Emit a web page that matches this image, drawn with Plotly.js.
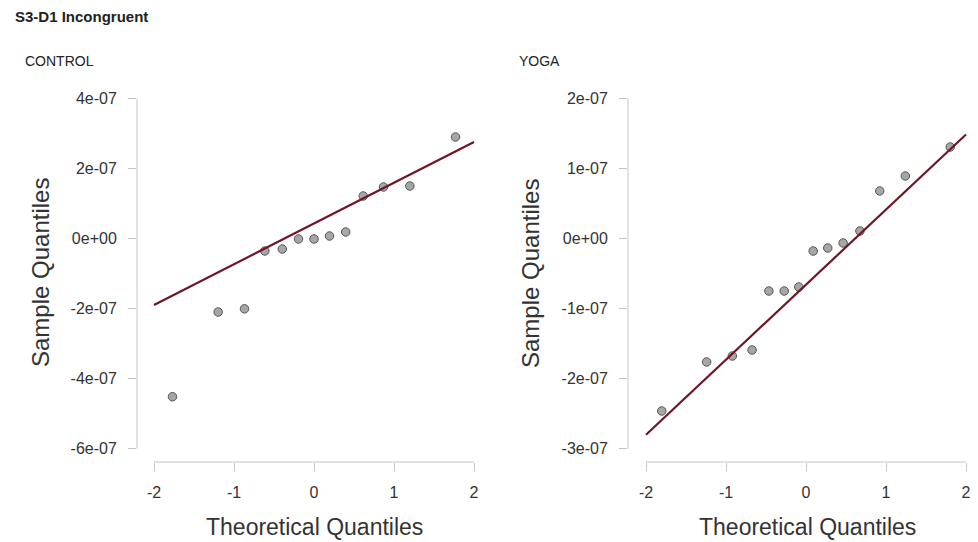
<!DOCTYPE html>
<html><head><meta charset="utf-8">
<script src="https://cdn.plot.ly/plotly-3.0.1.min.js"></script>
<style>html,body{margin:0;padding:0;background:#fff}#chart{width:978px;height:542px}</style>
</head><body><div id="chart"></div>
<script>
const chartTitle = 'S3-D1 Incongruent';
const panelNames = ['CONTROL', 'YOGA'];
const xAxisTitle = 'Theoretical Quantiles';
const yAxisTitle = 'Sample Quantiles';

const controlTheoretical = [-1.769, -1.198, -0.869, -0.615, -0.396, -0.194, 0, 0.194, 0.396, 0.615, 0.869, 1.198, 1.769];
const controlSample = [-4.52e-7, -2.10e-7, -2.01e-7, -0.357e-7, -0.30e-7, -0.014e-7, -0.014e-7, 0.071e-7, 0.186e-7, 1.214e-7, 1.471e-7, 1.50e-7, 2.90e-7];

const yogaTheoretical = [-1.803, -1.242, -0.921, -0.674, -0.464, -0.272, -0.090, 0.090, 0.272, 0.464, 0.674, 0.921, 1.242, 1.803];
const yogaSample = [-2.464e-7, -1.764e-7, -1.679e-7, -1.593e-7, -0.750e-7, -0.750e-7, -0.693e-7, -0.179e-7, -0.136e-7, -0.064e-7, 0.107e-7, 0.679e-7, 0.893e-7, 1.307e-7];

const xTickVals = [-2, -1, 0, 1, 2];
const xTickText = ['-2', '-1', '0', '1', '2'];
const controlTickVals = [-6e-7, -4e-7, -2e-7, 0, 2e-7, 4e-7];
const controlTickText = ['-6e-07', '-4e-07', '-2e-07', '0e+00', '2e-07', '4e-07'];
const yogaTickVals = [-3e-7, -2e-7, -1e-7, 0, 1e-7, 2e-7];
const yogaTickText = ['-3e-07', '-2e-07', '-1e-07', '0e+00', '1e-07', '2e-07'];

// qqline: line through the first and third quartiles (R type 7)
function quant7(arr, p) {
  const s = arr.slice().sort((a, b) => a - b);
  const h = (s.length - 1) * p;
  const lo = Math.floor(h);
  const hi = Math.min(lo + 1, s.length - 1);
  return s[lo] + (h - lo) * (s[hi] - s[lo]);
}
const Z75 = 0.6744897501960817;
function qqLine(sample, xs) {
  const y1 = quant7(sample, 0.25), y2 = quant7(sample, 0.75);
  const slope = (y2 - y1) / (2 * Z75);
  const intercept = y1 + Z75 * slope;
  return xs.map(x => intercept + slope * x);
}
const lineX = [xTickVals[0], xTickVals[xTickVals.length - 1]];

const W = 978, H = 542;
const fx = p => p / W;
const fy = p => 1 - p / H;
const FONT = '"Liberation Sans", Arial, Helvetica, sans-serif';
const LINE_COLOR = '#6e1626';
const AXIS_GRAY = '#c4c4c4';
const TEXT_COL = '#333333';

const markerStyle = {symbol: 'circle', size: 8.5, color: '#a6a6a6', line: {color: '#555555', width: 1}};

const traces = [
  {x: controlTheoretical, y: controlSample, type: 'scatter', mode: 'markers', marker: markerStyle, xaxis: 'x', yaxis: 'y', name: panelNames[0]},
  {x: lineX, y: qqLine(controlSample, lineX), type: 'scatter', mode: 'lines', line: {color: LINE_COLOR, width: 2.2}, xaxis: 'x', yaxis: 'y', name: 'qqline'},
  {x: yogaTheoretical, y: yogaSample, type: 'scatter', mode: 'markers', marker: markerStyle, xaxis: 'x2', yaxis: 'y2', name: panelNames[1]},
  {x: lineX, y: qqLine(yogaSample, lineX), type: 'scatter', mode: 'lines', line: {color: LINE_COLOR, width: 2.2}, xaxis: 'x2', yaxis: 'y2', name: 'qqline'}
];

const yDom = [fy(462), fy(88)];
const commonX = {
  tickmode: 'array', tickvals: xTickVals, ticktext: xTickText,
  ticks: 'outside', ticklen: 8, tickcolor: AXIS_GRAY, tickwidth: 1,
  showline: false, showgrid: false, zeroline: false, fixedrange: true,
  tickfont: {family: FONT, size: 16, color: TEXT_COL}, ticklabelstandoff: 8
};
const commonY = {
  tickmode: 'array', ticks: 'outside', ticklen: 8, tickcolor: AXIS_GRAY, tickwidth: 1,
  showline: false, showgrid: false, zeroline: false, fixedrange: true,
  tickfont: {family: FONT, size: 16, color: TEXT_COL}, ticklabelstandoff: 8,
  domain: yDom
};

const layout = {
  width: W, height: H,
  margin: {l: 0, r: 0, t: 0, b: 0},
  paper_bgcolor: '#ffffff', plot_bgcolor: '#ffffff',
  showlegend: false,
  font: {family: FONT, color: TEXT_COL},
  title: {text: '<b>' + chartTitle + '</b>', font: {family: FONT, size: 15, color: '#222'},
          xref: 'container', yref: 'container', x: fx(15), xanchor: 'left', y: fy(17), yanchor: 'middle'},
  xaxis: Object.assign({}, commonX, {domain: [fx(137), fx(491)], range: [-2.2125, 2.2125], anchor: 'y'}),
  yaxis: Object.assign({}, commonY, {range: [(238.5 - 462) / 35 * 1e-7, (238.5 - 88) / 35 * 1e-7],
          tickvals: controlTickVals, ticktext: controlTickText, anchor: 'x'}),
  xaxis2: Object.assign({}, commonX, {domain: [fx(628), 1], range: [-2.225, 2.15], anchor: 'y2'}),
  yaxis2: Object.assign({}, commonY, {range: [(238.5 - 462) / 70 * 1e-7, (238.5 - 88) / 70 * 1e-7],
          tickvals: yogaTickVals, ticktext: yogaTickText, anchor: 'x2'}),
  shapes: [
    {type: 'line', xref: 'x', yref: 'y domain', x0: xTickVals[0], x1: xTickVals[xTickVals.length - 1], y0: 0, y1: 0, line: {color: AXIS_GRAY, width: 1}},
    {type: 'line', xref: 'x domain', yref: 'y', x0: 0, x1: 0, y0: controlTickVals[0], y1: controlTickVals[controlTickVals.length - 1], line: {color: AXIS_GRAY, width: 1}},
    {type: 'line', xref: 'x2', yref: 'y2 domain', x0: xTickVals[0], x1: xTickVals[xTickVals.length - 1], y0: 0, y1: 0, line: {color: AXIS_GRAY, width: 1}},
    {type: 'line', xref: 'x2 domain', yref: 'y2', x0: 0, x1: 0, y0: yogaTickVals[0], y1: yogaTickVals[yogaTickVals.length - 1], line: {color: AXIS_GRAY, width: 1}}
  ],
  annotations: [
    {text: panelNames[0], xref: 'paper', yref: 'paper', x: fx(23), y: fy(61), xanchor: 'left', yanchor: 'middle', showarrow: false, font: {family: FONT, size: 14, color: '#222'}},
    {text: panelNames[1], xref: 'paper', yref: 'paper', x: fx(517), y: fy(61), xanchor: 'left', yanchor: 'middle', showarrow: false, font: {family: FONT, size: 14, color: '#222'}},
    {text: xAxisTitle, xref: 'paper', yref: 'paper', x: fx(314), y: fy(527), xanchor: 'center', yanchor: 'middle', showarrow: false, font: {family: FONT, size: 23, color: TEXT_COL}},
    {text: xAxisTitle, xref: 'paper', yref: 'paper', x: fx(807), y: fy(527), xanchor: 'center', yanchor: 'middle', showarrow: false, font: {family: FONT, size: 23, color: TEXT_COL}},
    {text: yAxisTitle, xref: 'paper', yref: 'paper', x: fx(40), y: fy(273), xanchor: 'center', yanchor: 'middle', textangle: -90, showarrow: false, font: {family: FONT, size: 24, color: TEXT_COL}},
    {text: yAxisTitle, xref: 'paper', yref: 'paper', x: fx(530), y: fy(274), xanchor: 'center', yanchor: 'middle', textangle: -90, showarrow: false, font: {family: FONT, size: 24, color: TEXT_COL}}
  ]
};

Plotly.newPlot('chart', traces, layout, {staticPlot: true, displayModeBar: false});
</script>
</body></html>
